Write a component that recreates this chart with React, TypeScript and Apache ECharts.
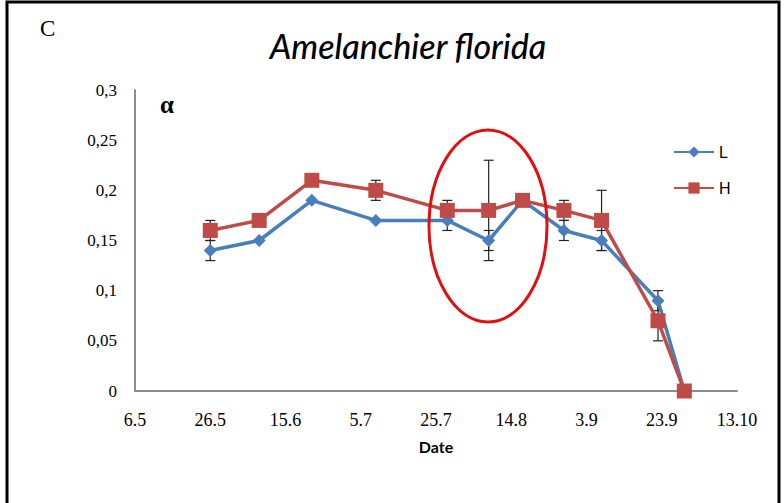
import React, { useEffect, useRef } from "react";
import * as echarts from "echarts";

// Sampling dates (day.month)
const dates = ["26.5", "8.6", "22.6", "9.7", "28.7", "8.8", "17.8", "28.8", "7.9", "22.9", "29.9"];
const seriesL = [0.14, 0.15, 0.19, 0.17, 0.17, 0.15, 0.19, 0.16, 0.15, 0.09, 0];
const seriesH = [0.16, 0.17, 0.21, 0.2, 0.18, 0.18, 0.19, 0.18, 0.17, 0.07, 0];
const errL = [0.01, 0, 0, 0, 0.01, 0.01, 0, 0.01, 0.01, 0.01, 0];
const errH = [0.01, 0, 0, 0.01, 0.01, 0.05, 0, 0.01, 0.03, 0.02, 0];
const xTickLabels = ["6.5", "26.5", "15.6", "5.7", "25.7", "14.8", "3.9", "23.9", "13.10"];
const yTickLabels = ["0", "0,05", "0,1", "0,15", "0,2", "0,25", "0,3"];

const YEAR = 2012;
const toUTC = (s: string) => {
  const [d, m] = s.split(".").map(Number);
  return Date.UTC(YEAR, m - 1, d);
};
const ORIGIN = toUTC(xTickLabels[0]);
const dayOf = (s: string) => Math.round((toUTC(s) - ORIGIN) / 86400000);

const serif = "'Liberation Serif', 'DejaVu Serif', serif";
const sans = "Lato, 'Liberation Sans', sans-serif";

export default function App() {
  const ref = useRef<HTMLDivElement>(null);
  useEffect(() => {
    if (!ref.current) return;
    const chart = echarts.init(ref.current, undefined, { renderer: "svg" });
    const xs = dates.map(dayOf);
    const errData: number[][] = [];
    xs.forEach((x, i) => {
      if (errL[i] > 0) errData.push([x, seriesL[i] - errL[i], seriesL[i] + errL[i]]);
      if (errH[i] > 0) errData.push([x, seriesH[i] - errH[i], seriesH[i] + errH[i]]);
    });
    const lastDay = dayOf(xTickLabels[xTickLabels.length - 1]);
    chart.setOption({
      animation: false,
      backgroundColor: "#fff",
      grid: { left: 135, right: 47, top: 90, bottom: 112, containLabel: false },
      title: {
        text: "Amelanchier florida",
        left: 403,
        textAlign: "center",
        top: 23,
        textStyle: { fontFamily: sans, fontStyle: "italic", fontWeight: 500, fontSize: 34, color: "#000" },
      },
      legend: {
        orient: "vertical",
        left: 668,
        top: 139,
        itemWidth: 40,
        itemHeight: 14,
        itemGap: 20,
        textStyle: { fontFamily: "'Liberation Sans', Arial, sans-serif", fontSize: 16, color: "#000" },
        data: ["L", "H"],
      },
      xAxis: {
        type: "value",
        min: 0,
        max: lastDay,
        interval: 20,
        name: "Date",
        nameLocation: "middle",
        nameGap: 47,
        nameTextStyle: { fontFamily: sans, fontWeight: "bold", fontSize: 16, color: "#000" },
        axisLine: { lineStyle: { color: "#8c8c8c", width: 2 } },
        axisTick: { show: false },
        splitLine: { show: false },
        axisLabel: {
          fontFamily: serif,
          fontSize: 18,
          color: "#000",
          margin: 20,
          formatter: (v: number) => xTickLabels[Math.round(v / 20)] ?? "",
        },
      },
      yAxis: {
        type: "value",
        min: 0,
        max: 0.3,
        interval: 0.05,
        axisLine: { show: true, lineStyle: { color: "#8c8c8c", width: 2 } },
        axisTick: { show: false },
        splitLine: { show: false },
        axisLabel: {
          fontFamily: serif,
          fontSize: 17,
          color: "#000",
          margin: 18,
          formatter: (v: number) => yTickLabels[Math.round(v / 0.05)] ?? "",
        },
      },
      series: [
        {
          type: "custom",
          name: "err",
          z: 1,
          data: errData,
          renderItem: (params: any, api: any) => {
            const x = api.value(0);
            const lo = api.coord([x, api.value(1)]);
            const hi = api.coord([x, api.value(2)]);
            const w = 5;
            const style = { stroke: "#222", lineWidth: 1.2 };
            return {
              type: "group",
              children: [
                { type: "line", shape: { x1: lo[0], y1: lo[1], x2: hi[0], y2: hi[1] }, style },
                { type: "line", shape: { x1: lo[0] - w, y1: lo[1], x2: lo[0] + w, y2: lo[1] }, style },
                { type: "line", shape: { x1: hi[0] - w, y1: hi[1], x2: hi[0] + w, y2: hi[1] }, style },
              ],
            };
          },
        },
        {
          type: "line",
          name: "L",
          z: 3,
          data: xs.map((x, i) => [x, seriesL[i]]),
          symbol: "diamond",
          symbolSize: 13,
          lineStyle: { color: "#4A7EBB", width: 3.5 },
          itemStyle: { color: "#4A7EBB" },
        },
        {
          type: "line",
          name: "H",
          z: 4,
          data: xs.map((x, i) => [x, seriesH[i]]),
          symbol: "rect",
          symbolSize: 15,
          lineStyle: { color: "#BE4B48", width: 3.5 },
          itemStyle: { color: "#BE4B48" },
        },
      ],
      graphic: [
        { type: "rect", shape: { x: 7, y: 2, width: 772, height: 510 }, style: { fill: "none", stroke: "#000", lineWidth: 3 }, silent: true },
        { type: "text", x: 40, y: 17, style: { text: "C", font: `23px ${serif}`, fill: "#000" } },
        { type: "text", x: 160, y: 92, style: { text: "α", font: `bold 25px ${serif}`, fill: "#000" } },
        { type: "ellipse", shape: { cx: 488, cy: 226, rx: 59, ry: 96 }, style: { fill: "none", stroke: "#E01010", lineWidth: 3 }, z: 10 },
      ],
    });
    return () => chart.dispose();
  }, []);
  return <div ref={ref} style={{ position: "fixed", left: 0, top: 0, width: 784, height: 503 }} />;
}
